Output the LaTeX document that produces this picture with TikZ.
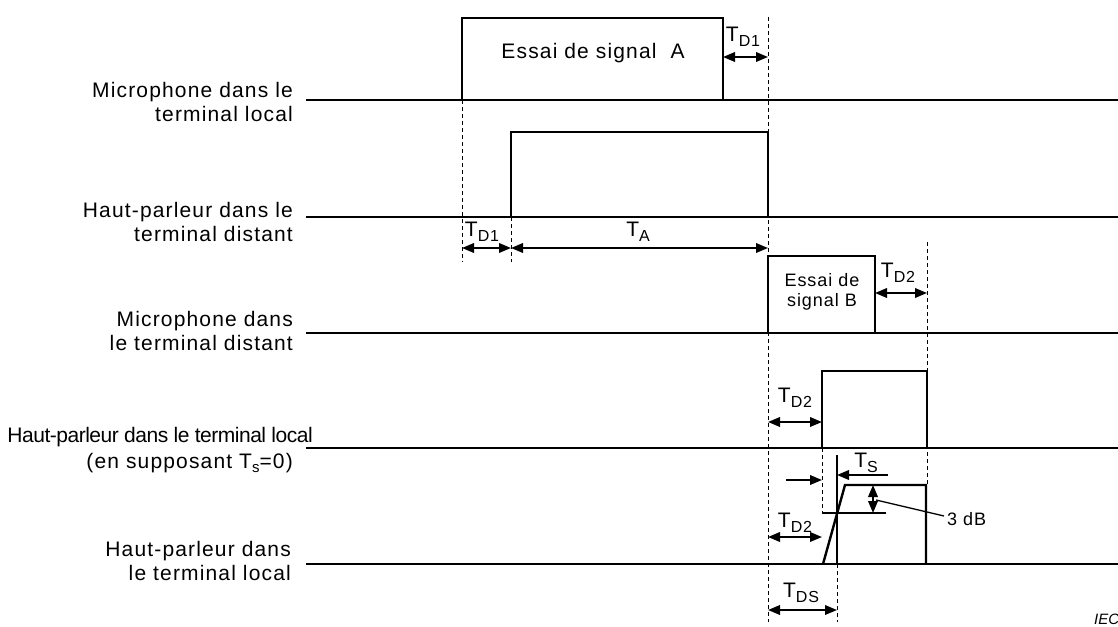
\documentclass[tikz,border=0pt]{standalone}
\usepackage{fontspec}
\setmainfont{Liberation Sans}[LetterSpace=5.5]
\newfontfamily\tightfont{Liberation Sans}[LetterSpace=-2.3]
\newfontfamily\plainfont{Liberation Sans}
\usetikzlibrary{arrows.meta}
\newcommand{\lsub}[1]{\raisebox{-0.45ex}{\fontsize{16}{16}\selectfont #1}}
\begin{document}
\begin{tikzpicture}[x=1pt,y=-1pt,
 base/.style={line width=2.4pt},
 pulsebox/.style={draw, line width=2.4pt, inner sep=0pt},
 pulse/.style={line width=2.4pt, line join=miter},
 guide/.style={line width=0.9pt, dash pattern=on 4pt off 3pt},
 thinline/.style={line width=1.3pt},
 dim/.style={line width=2pt, {Triangle[length=12pt,width=9.5pt]}-{Triangle[length=12pt,width=9.5pt]}},
 dimr/.style={line width=2pt, -{Triangle[length=12pt,width=9.5pt]}},
 lab/.style={font=\fontsize{21}{24.5}\selectfont, inner sep=0pt, align=right},
 tl/.style={font=\fontsize{21}{24}\selectfont, inner sep=0pt},
 small/.style={font=\fontsize{18}{20.5}\selectfont, inner sep=0pt, align=center},
]
\useasboundingbox (0,0) rectangle (1118,626);
% baselines
\foreach \y/\n in {100/1,217/2,333/3,448/4,564/5} {
  \coordinate (L\n) at (306,\y);
  \coordinate (R\n) at (1118,\y);
}
% guide coordinates
\coordinate (g1t) at (462,100); \coordinate (g1b) at (462,262);
\coordinate (g2t) at (511,217); \coordinate (g2b) at (511,262);
\coordinate (g3t) at (768,17);  \coordinate (g3b) at (768,622);
\coordinate (g4t) at (927,242); \coordinate (g4b) at (927,484);
\coordinate (g5t) at (822,448); \coordinate (g5b) at (822,513);
\coordinate (g6t) at (837,564); \coordinate (g6b) at (837,622);
\draw[guide] (g1t) -- (g1b);
\draw[guide] (g2t) -- (g2b);
\draw[guide] (g3t) -- (g3b);
\draw[guide] (g4t) -- (g4b);
\draw[guide] (g5t) -- (g5b);
\draw[guide] (g6t) -- (g6b);
% pulses
\node[pulsebox, minimum width=261pt, minimum height=82pt] (pA) at (592.5,59) {};
\node[tl] (tA) at (593,53) {Essai de signal\ \ A};
\node[pulsebox, minimum width=257pt, minimum height=85pt] (pA2) at (639.5,174.5) {};
\node[pulsebox, minimum width=107pt, minimum height=77pt] (pB) at (821.5,294.5) {};
\node[small] (tB) at (822,292) {Essai de\\signal B};
\node[pulsebox, minimum width=105pt, minimum height=77pt] (pB2) at (874.5,409.5) {};
\coordinate (z1) at (823,564); \coordinate (z2) at (845,485);
\coordinate (z3) at (926,485); \coordinate (z4) at (926,564);
\draw[pulse] (z1) -- (z2) -- (z3) -- (z4);
\foreach \n in {1,...,5} { \draw[base] (L\n) -- (R\n); }
% thin lines row 5
\coordinate (ts0) at (837,455);
\draw[thinline] (ts0) -- (g6t);
\coordinate (h1) at (822,513); \coordinate (h2) at (886,513);
\draw[thinline] (h1) -- (h2);
% dimension coordinates
\coordinate (a1) at (723,57);   \coordinate (a2) at (768,57);
\coordinate (b1) at (462,248);  \coordinate (b2) at (511,248); \coordinate (b3) at (768,248);
\coordinate (c1) at (875,293);  \coordinate (c2) at (927,293);
\coordinate (d1) at (768,422);  \coordinate (d2) at (822,422);
\coordinate (e1) at (888,475);  \coordinate (e2) at (837,475);
\coordinate (f1) at (786,480);  \coordinate (f2) at (822,480);
\coordinate (k1) at (873,485);  \coordinate (k2) at (873,513);
\coordinate (m1) at (876,500);  \coordinate (m2) at (944,516);
\coordinate (n1) at (768,537);  \coordinate (n2) at (822,537);
\coordinate (p1) at (768,610);  \coordinate (p2) at (837,610);
\draw[dim] (a1) -- (a2);
\draw[dim] (b1) -- (b2);
\draw[dim] (b2) -- (b3);
\draw[dim] (c1) -- (c2);
\draw[dim] (d1) -- (d2);
\draw[dimr] (e1) -- (e2);
\draw[dimr] (f1) -- (f2);
\draw[dim] (k1) -- (k2);
\draw[thinline] (m1) -- (m2);
\draw[dim] (n1) -- (n2);
\draw[dim] (p1) -- (p2);
% dimension labels
\node[tl] (lTD1a) at (743,37) {T\lsub{D1}};
\node[tl] (lTD1b) at (482,232) {T\lsub{D1}};
\node[tl] (lTA) at (638,232) {T\lsub{A}};
\node[tl] (lTD2a) at (898,273) {T\lsub{D2}};
\node[tl] (lTD2b) at (795,398) {T\lsub{D2}};
\node[tl] (lTS) at (866,463) {T\lsub{S}};
\node[tl] (lTD2c) at (795,523) {T\lsub{D2}};
\node[tl] (lTDS) at (801,593) {T\lsub{DS}};
\node[small, anchor=west] (l3dB) at (947,519) {3 dB};
% row labels
\node[lab, anchor=east] (r1) at (293,102) {Microphone dans le\\terminal local};
\node[lab, anchor=east] (r2) at (293,222) {Haut-parleur dans le\\terminal distant};
\node[lab, anchor=east] (r3) at (293,331) {Microphone dans\\le terminal distant};
\node[lab, anchor=east] (r4a) at (313,437) {\tightfont Haut-parleur dans le terminal local};
\node[lab, anchor=east] (r4b) at (293,463) {(en supposant T\raisebox{-0.4ex}{\fontsize{15}{15}\selectfont s}=0)};
\node[lab, anchor=east] (r5) at (291,561) {Haut-parleur dans\\le terminal local};
\node[font=\fontsize{15}{15}\selectfont\plainfont\itshape, inner sep=0pt, anchor=west] (iec) at (1094,619) {IEC};
\end{tikzpicture}
\end{document}
